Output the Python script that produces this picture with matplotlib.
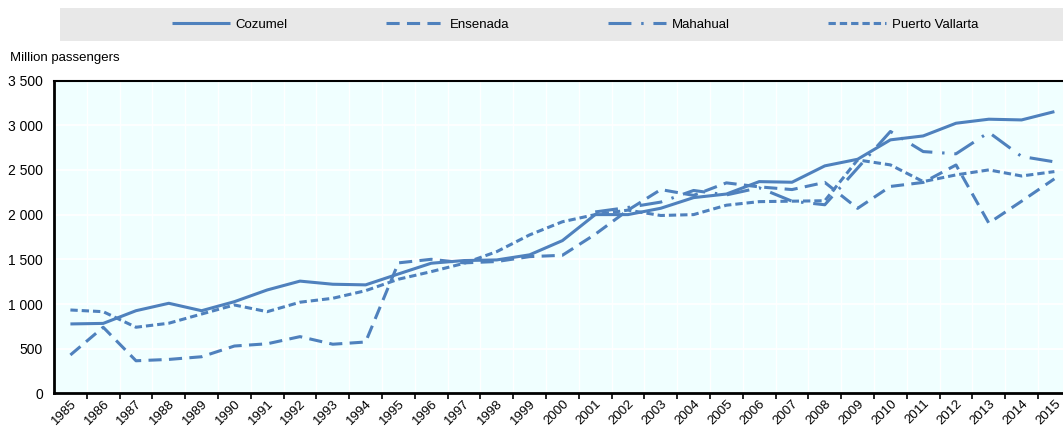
import matplotlib
matplotlib.use("Agg")
import matplotlib.pyplot as plt
import numpy as np
from matplotlib.patches import Rectangle
from matplotlib.ticker import FuncFormatter, FixedLocator

YEARS = list(range(1985, 2016))

COZUMEL = [777, 783, 925, 1008, 925, 1026, 1157, 1256, 1221, 1214,
           1336, 1456, 1486, 1493, 1550, 1709, 2000, 2000, 2071, 2190,
           2230, 2369, 2362, 2545, 2619, 2836, 2880, 3022, 3067, 3059, 3152]
ENSENADA = [430, 740, 365, 380, 410, 530, 555, 635, 550, 575,
            1460, 1500, 1460, 1475, 1530, 1545, 1780, 2050, 2280, 2215,
            2355, 2310, 2280, 2360, 2070, 2315, 2360, 2555, 1905, 2150, 2400]
MAHAHUAL = [None] * 16 + [2030, 2080, 2140, 2270, 2220, 2300, 2150, 2110,
                          2520, 2930, 2705, 2680, 2920, 2650, 2590]
VALLARTA = [933, 914, 740, 785, 888, 989, 914, 1020, 1064, 1149,
            1277, 1362, 1455, 1586, 1773, 1920, 2000, 2050, 1990, 2000,
            2105, 2145, 2150, 2155, 2612, 2556, 2369, 2444, 2500, 2432, 2481]

SERIES = ["Cozumel", "Ensenada", "Mahahual", "Puerto Vallarta"]
Y_TICKS = [0, 500, 1000, 1500, 2000, 2500, 3000, 3500]

plt.rcParams["font.family"] = ["Liberation Sans Narrow", "Liberation Sans", "DejaVu Sans"]

W, H = 1063, 428
fig = plt.figure(figsize=(W / 100, H / 100), dpi=100)
ax = fig.add_axes([54 / W, (H - 393.4) / H, (W - 54) / W, (393.4 - 80.5) / H])

blue = "#4F81BD"
lw = 2.2
x = np.arange(len(YEARS))
styles = [
    dict(linestyle="-"),
    dict(linestyle=(0, (4.3, 2.4))),
    dict(linestyle=(0, (7.5, 3.2, 0.8, 3.2))),
    dict(linestyle=(0, (2.4, 1.3))),
]
for name, vals, st in zip(SERIES, [COZUMEL, ENSENADA, MAHAHUAL, VALLARTA], styles):
    y = np.array([np.nan if v is None else v for v in vals], dtype=float)
    ax.plot(x, y, color=blue, lw=lw, label=name, solid_capstyle="butt",
            dash_capstyle="butt", **st)

ax.set_facecolor("#F0FFFF")
ax.set_xlim(-0.5, -0.5 + (W - 54) / 32.8)
ax.set_ylim(0, 3500)

# category labels centred, tick marks on the category boundaries
ax.set_xticks(x)
ax.set_xticklabels([str(yr) for yr in YEARS], rotation=45, ha="right",
                   rotation_mode="anchor", fontsize=9.5)
ax.tick_params(axis="x", which="major", length=0, pad=3)
ax.xaxis.set_minor_locator(FixedLocator(np.arange(0.5, len(YEARS) - 0.5, 1.0)))
ax.tick_params(axis="x", which="minor", length=4, width=1.2, color="black", direction="out")

ax.set_yticks(Y_TICKS)
ax.yaxis.set_major_formatter(FuncFormatter(lambda v, p: f"{int(v):,}".replace(",", " ")))
ax.tick_params(axis="y", length=0, pad=8, labelsize=10)

ax.grid(False)
for xb in np.arange(0.5, len(YEARS) - 0.5, 1.0):
    ax.axvline(xb, color="white", lw=1.0, zorder=0.5)
for yt in Y_TICKS[1:]:
    ax.axhline(yt, color="white", lw=1.3, zorder=0.5)

for s in ["left", "bottom"]:
    ax.spines[s].set_linewidth(2.0)
    ax.spines[s].set_color("black")
ax.spines["top"].set_linewidth(1.5)
ax.spines["right"].set_visible(False)

# legend band
fig.patches.append(Rectangle((60 / W, (H - 41) / H), (W - 60) / W, 33 / H,
                             transform=fig.transFigure, facecolor="#E8E8E8",
                             edgecolor="none", zorder=0))
handles, labels = ax.get_legend_handles_labels()
fig.legend(handles, labels, loc="center", ncol=4, frameon=False,
           bbox_to_anchor=(575 / W, (H - 24.5) / H), fontsize=9.5,
           handlelength=4.4, handletextpad=0.4, columnspacing=7.5)

fig.text(10 / W, (H - 58) / H, "Million passengers", fontsize=9.5,
         ha="left", va="center")

fig.savefig("out.png", dpi=100)
